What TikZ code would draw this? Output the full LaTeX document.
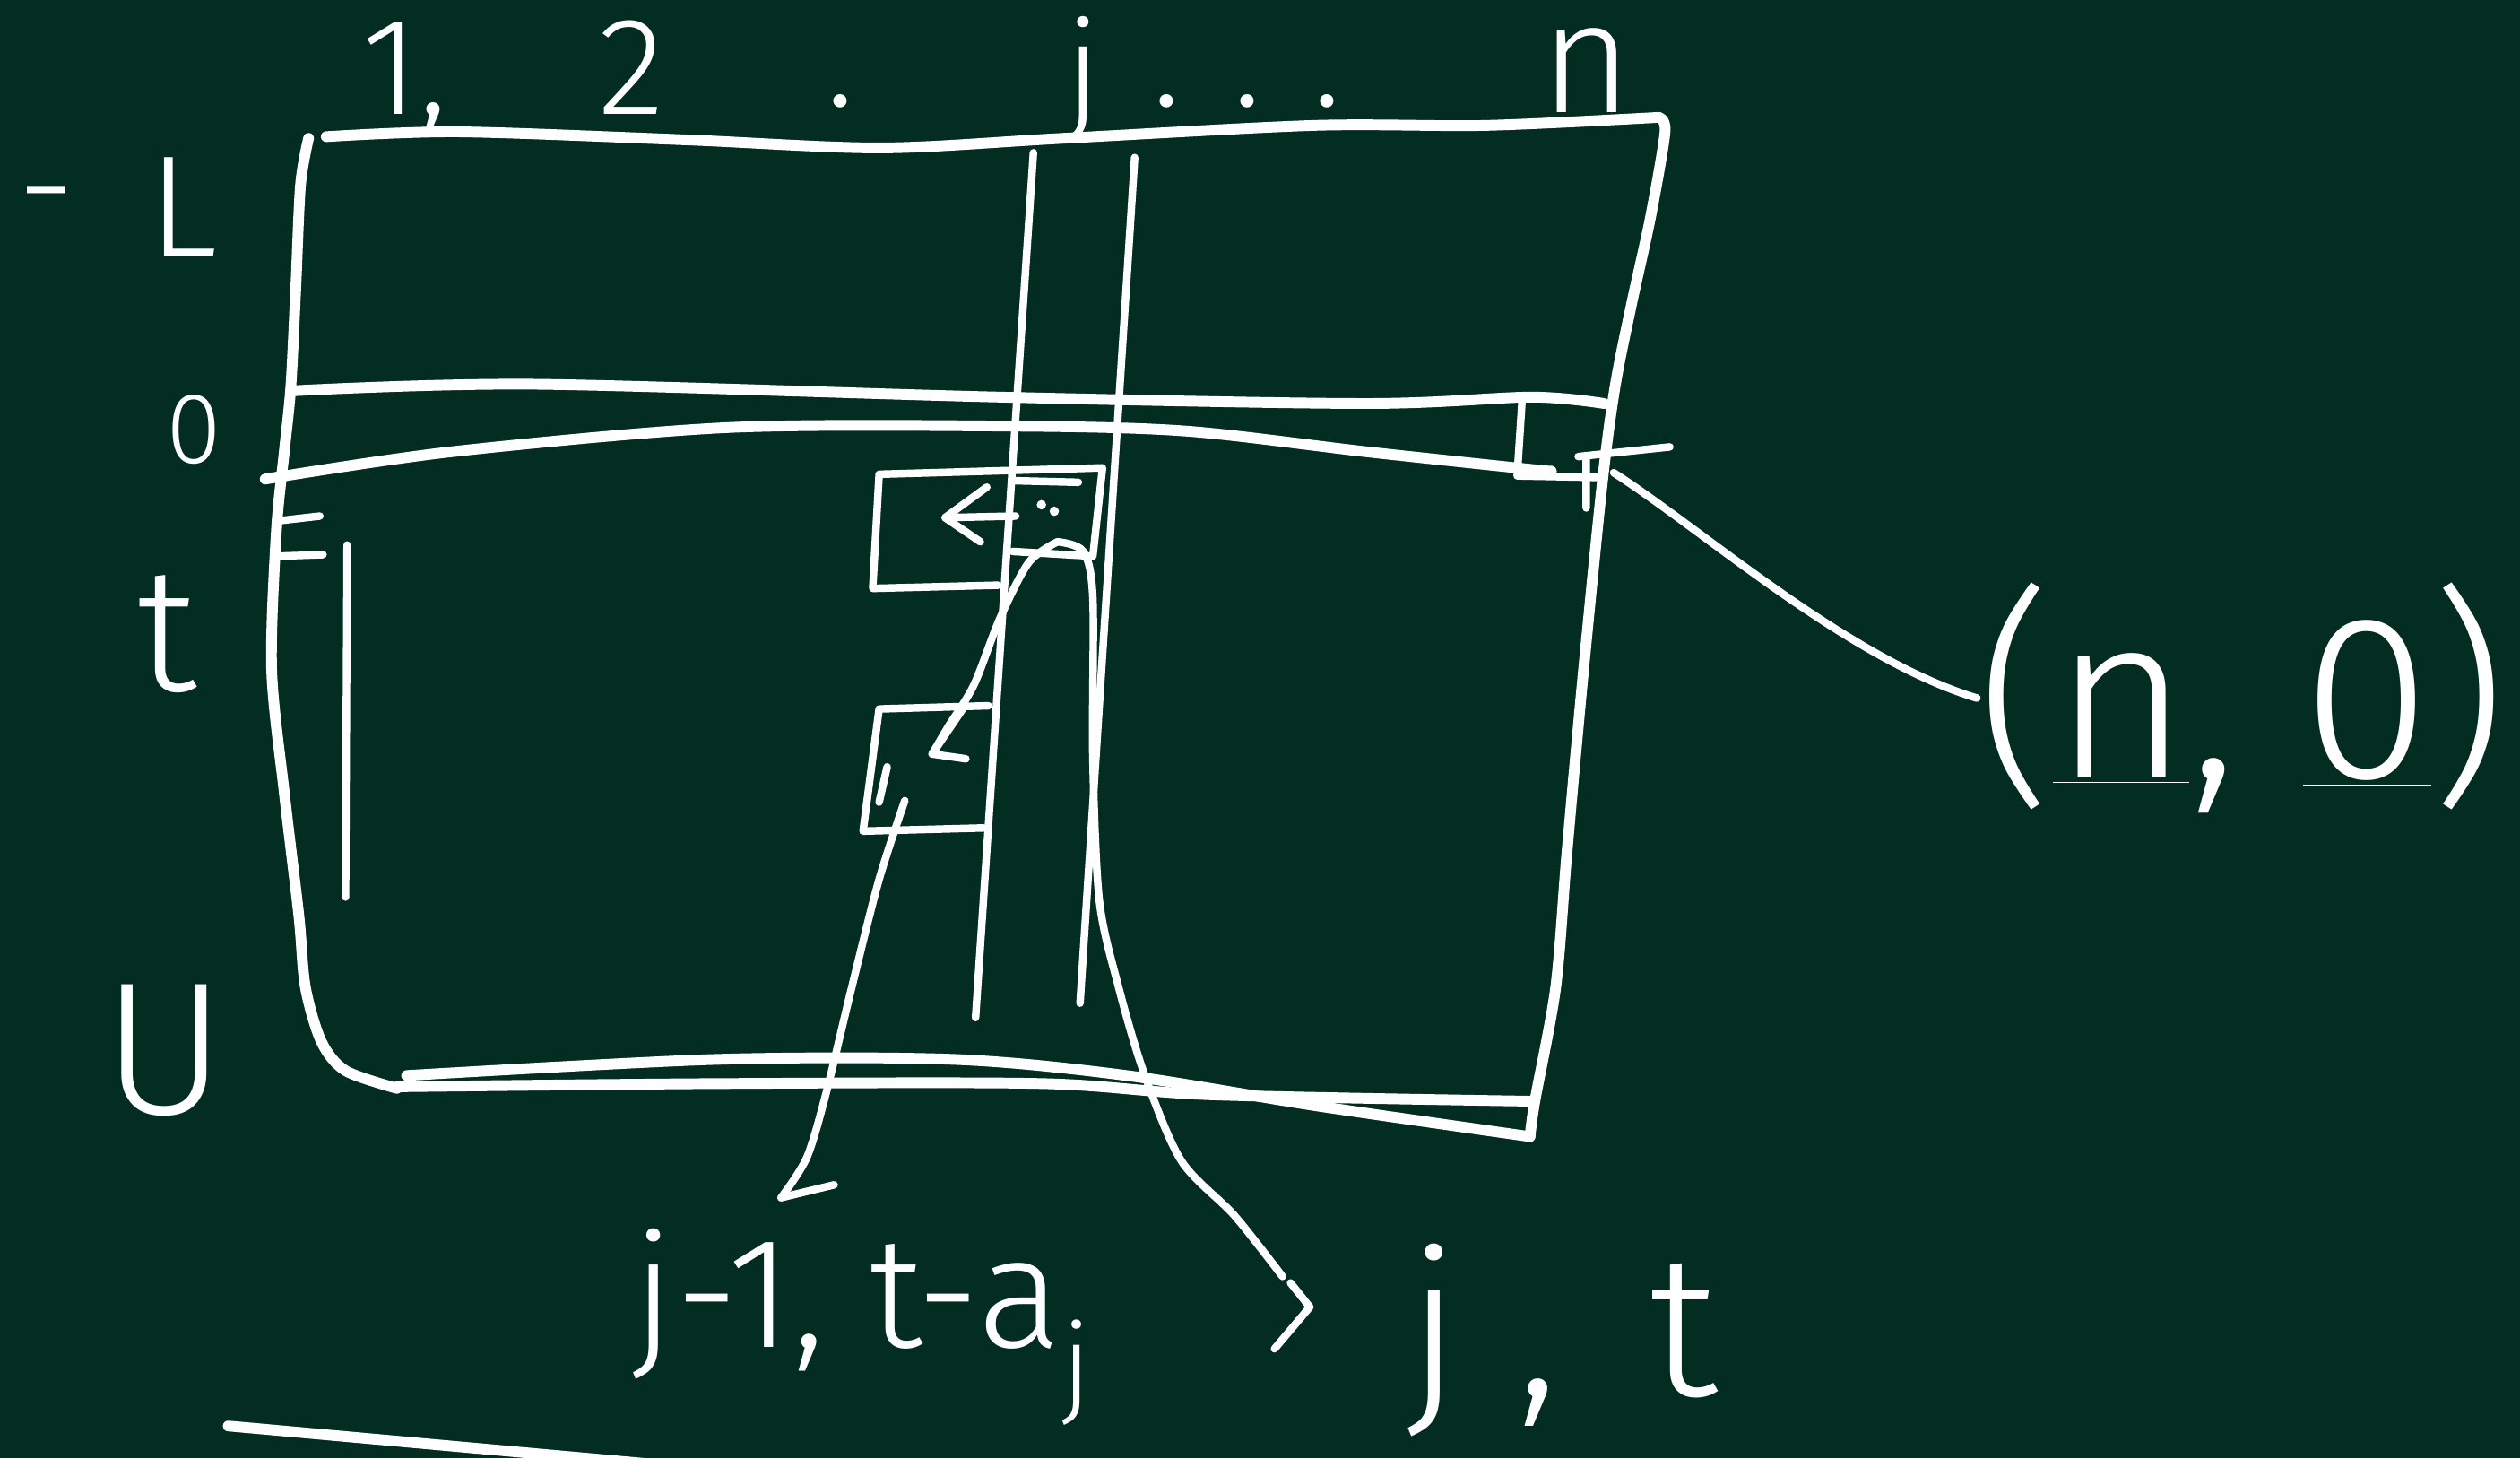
\documentclass[tikz,border=0pt]{standalone}
\usepackage{fontspec}
\setmainfont{Fira Sans Light}
\usepackage{tikz}
\usetikzlibrary{arrows.meta}
\definecolor{board}{RGB}{4,45,34}

\begin{document}
\begin{tikzpicture}[x=0.017927cm, y=-0.017927cm,
    chalk/.style={white, line width=3.4pt, line cap=round, line join=round},
    thinchalk/.style={white, line width=2.4pt, line cap=round, line join=round},
    lbl/.style={text=white, inner sep=0pt, anchor=base}]
  \fill[board] (0,0) rectangle (1568,907);
  \useasboundingbox (0,0) rectangle (1568,907);

  % table frame
  \draw[chalk] plot[smooth] coordinates {(203,85) (285,82) (427,87) (548,92) (662,86) (818,78) (925,78) (1032,73)};
  \draw[chalk] plot[smooth] coordinates {(192,86) (187,115) (184,180) (181,240) (177,280) (172,330) (169,416) (177,494) (186,570) (190,614) (200,648) (215,666) (247,677)};
  \draw[chalk] plot[smooth] coordinates {(1032,73) (1036,82) (1027,135) (1015,190) (1005,240) (997,300) (985,420) (975,530) (968,614) (955,685) (952,707)};
  \draw[chalk] plot[smooth] coordinates {(247,676) (448,674) (648,674) (754,681) (954,685)};
  \draw[chalk] plot[smooth] coordinates {(253,669) (445,659) (594,659) (701,669) (820,688) (952,707)};
  \draw[chalk] (142,887) -- (420,912);

  % row 0
  \draw[chalk] plot[smooth] coordinates {(184,243) (332,239) (622,247) (850,251) (953,247) (998,251)};
  \draw[chalk] plot[smooth] coordinates {(165,298) (281,281) (452,266) (622,265) (736,268) (850,281) (953,292) (965,293)};

  % column j
  \draw[thinchalk] (643,95) -- (607,633);
  \draw[thinchalk] (706,98) -- (672,624);

  % left marks
  \draw[thinchalk] (173,324) -- (199,321) (172,346) -- (201,345);
  \draw[thinchalk] (216,339) -- (215,558);

  % cell (n,0)
  \draw[thinchalk] (947,250) -- (944,296) -- (995,297);
  \draw[thinchalk] (982,284) -- (1039,278) (987,284) -- (987,316);

  % cell j,t
  \draw[thinchalk] (621,364) -- (543,366) -- (547,295) -- (686,291) -- (680,346) -- (630,343);
  \draw[thinchalk] (631,299) -- (671,300);
  \draw[thinchalk] (614,303) -- (588,322) -- (610,337) (588,322) -- (632,321);
  \fill[white] (648,314) circle (1.5pt) (656,318) circle (1.5pt);

  % cell j-1, t-a_j
  \draw[thinchalk] (615,439) -- (547,441) -- (537,517) -- (612,515);
  \draw[thinchalk] (552,477) -- (547,499);

  % labels
  \node[lbl, font=\fontsize{44}{50}\selectfont] (col1) at (252,71) {1,};
  \node[lbl, font=\fontsize{44}{50}\selectfont] (col2) at (393,71) {2};
  \node[lbl, font=\fontsize{44}{50}\selectfont] (coldot) at (523,66) {.};
  \node[lbl, font=\fontsize{42}{48}\selectfont] (colj) at (674,72) {j};
  \node[lbl, font=\fontsize{44}{50}\selectfont] (coldots) at (776,66) {. . .};
  \node[lbl, font=\fontsize{50}{56}\selectfont] (coln) at (987,70) {n};

  \node[lbl, font=\fontsize{46}{52}\selectfont] (rowL) at (73,160) {\raisebox{.15em}{-}\hspace{.5em}L};
  \node[lbl, font=\fontsize{32}{38}\selectfont] (rowzero) at (121,288) {0};
  \node[lbl, font=\fontsize{56}{62}\selectfont] (rowt) at (104,430) {t};
  \node[lbl, font=\fontsize{60}{66}\selectfont] (rowU) at (102,693) {U};

  \node[lbl, font=\fontsize{74}{80}\selectfont] (nzero) at (1395,484) {(\underline{n}, \underline{0})};
  \node[lbl, font=\fontsize{50}{56}\selectfont] (jlabel) at (537,838) {j-1, t-a\textsubscript{j}};
  \node[lbl, font=\fontsize{64}{70}\selectfont] (jt) at (972,868) {j , \,t};

  % connectors
  \coordinate (ncell) at (1004,294);
  \coordinate (jtcell) at (658,337);
  \coordinate (lowtip) at (580,469);
  \coordinate (jttip) at (815,813);
  \coordinate (lowcell) at (563,498);
  \coordinate (jltip) at (486,745);

  \draw[thinchalk] (ncell) .. controls (1060,330) and (1150,410) .. (nzero.west);

  \draw[thinchalk] plot[smooth] coordinates {(jtcell) (640,350) (622,385) (606,426) (590,452) (lowtip)};
  \draw[thinchalk] ([shift={(19,-28)}]lowtip) -- (lowtip) -- ([shift={(21,3)}]lowtip);

  \draw[thinchalk] plot[smooth] coordinates {(jtcell) (674,343) (680,372) (680,472) (684,560) (696,614) (712,668) (735,722) (768,756) (798,794)};
  \draw[thinchalk] ([shift={(-12,-15)}]jttip) -- (jttip) -- ([shift={(-22,26)}]jttip);

  \draw[thinchalk] plot[smooth] coordinates {(lowcell) (547,547) (530,614) (514,680) (502,720) (jltip)};
  \draw[thinchalk] (jltip) -- (519,737);
\end{tikzpicture}
\end{document}
